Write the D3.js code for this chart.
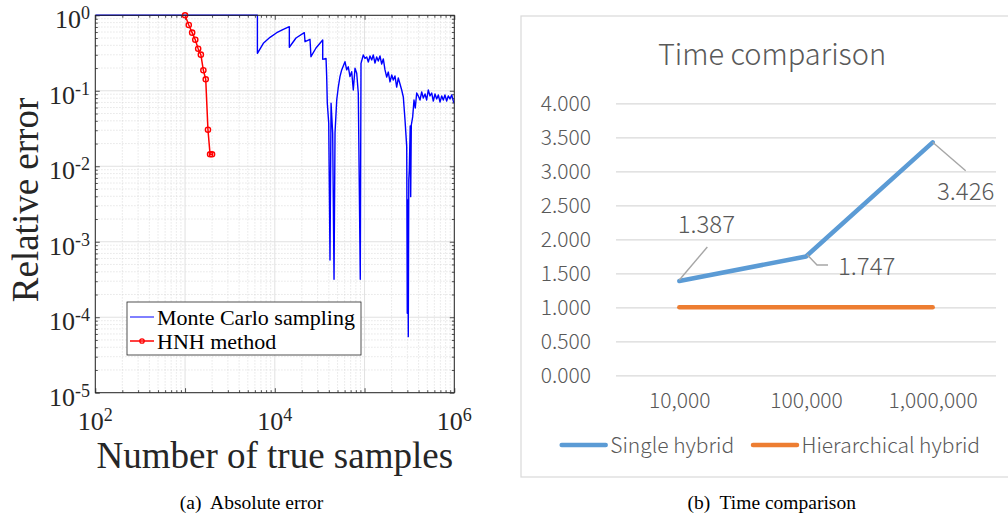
<!DOCTYPE html>
<html>
<head>
<meta charset="utf-8">
<script src="https://cdn.jsdelivr.net/npm/d3@7"></script>
<style>
body { margin: 0; background: #fff; }
svg { display: block; }
</style>
</head>
<body>
<svg id="fig" width="1008" height="518"></svg>
<script>
// ---- (a) relative error, log-log ----
var mcX = [100, 6400, 6400, 7450, 8850, 10500, 12440, 14520, 14520, 17220,
    21320, 21720, 24660, 25300, 28770, 34200, 34200, 37230, 37850, 38460,
    39900, 41210, 42360, 44150, 45700, 46880, 48980, 51050, 53220, 55630,
    60540, 63240, 65900, 68830, 71920, 74940, 78290, 81790, 85190, 89600,
    91300, 96800, 101100, 105700, 110200, 115000, 120200, 125000, 130700, 136500,
    142200, 148600, 155200, 161800, 169000, 176600, 184000, 192200, 200900, 209000,
    218300, 228000, 237700, 248300, 259300, 270400, 282400, 295000, 299300, 303400,
    307000, 311200, 315100, 322700, 326600, 331900, 343800, 355600, 367400, 381000,
    397100, 414900, 433300, 451600, 472100, 492000, 513100, 535800, 559800, 583500,
    609500, 636600, 663700, 693400, 724400, 754200, 787000, 822000, 857000, 895300,
    935000, 975000, 1000000];
var mcY = [1, 1, 0.314, 0.426, 0.511, 0.588, 0.653, 0.706, 0.377, 0.50,
    0.588, 0.447, 0.481, 0.283, 0.369, 0.471, 0.261, 0.269, 0.154, 0.0683,
    0.0371, 0.000574, 0.0683, 0.0274, 0.000318, 0.0277, 0.0755, 0.113, 0.154, 0.189,
    0.243, 0.189, 0.208, 0.154, 0.179, 0.1025, 0.199, 0.171, 0.0927, 0.000318,
    0.231, 0.298, 0.269, 0.280, 0.241, 0.289, 0.256, 0.298, 0.233, 0.280,
    0.248, 0.289, 0.226, 0.264, 0.189, 0.152, 0.177, 0.131, 0.162, 0.139,
    0.157, 0.112, 0.148, 0.123, 0.1025, 0.0827, 0.0410, 0.0182, 0.000113, 0.00358,
    0.0000553, 0.00659, 0.00893, 0.0342, 0.00396, 0.0352, 0.0451, 0.0755, 0.0592, 0.0935,
    0.0855, 0.0755, 0.0965, 0.0803, 0.0906, 0.0755, 0.1025, 0.0855, 0.0935, 0.0730,
    0.0906, 0.0780, 0.0880, 0.0710, 0.0855, 0.0755, 0.0880, 0.0733, 0.0855, 0.0780,
    0.0880, 0.0733, 0.0683];
var hnhX = [1000, 1100, 1200, 1300, 1400, 1500, 1600, 1700, 1800, 1900, 2000];
var hnhY = [1, 0.744, 0.589, 0.475, 0.361, 0.301, 0.187, 0.142, 0.0305, 0.0144, 0.0144];
var xExponents = [2, 4, 6];
var yExponents = [0, -1, -2, -3, -4, -5];
var legendLabels = ["Monte Carlo sampling", "HNH method"];

// ---- (b) time comparison ----
var sizes = ["10,000", "100,000", "1,000,000"];
var singleHybrid = [1.387, 1.747, 3.426];
var hierarchicalHybrid = [1.000, 1.000, 1.000];
var timeTicks = [0, 0.5, 1, 1.5, 2, 2.5, 3, 3.5, 4];
var seriesNames = ["Single hybrid", "Hierarchical hybrid"];

var svg = d3.select("#fig");
var serif = "'Liberation Serif','Times New Roman',serif";
var ink = "#262626";

// ================= left panel =================
var L = {left: 95.3, right: 454.3, top: 15.3, bottom: 392.7};
var x = d3.scaleLog().domain([1e2, 1e6]).range([L.left, L.right]);
var y = d3.scaleLog().domain([1e-5, 1]).range([L.bottom, L.top]);
var isMajor = function(v) { return Math.abs(Math.log10(v) - Math.round(Math.log10(v))) < 1e-9; };
var xMinor = x.ticks().filter(function(v) { return !isMajor(v); });
var yMinor = y.ticks().filter(function(v) { return !isMajor(v); });
var xMajor = x.ticks().filter(isMajor);
var yMajor = y.ticks().filter(isMajor);

var left = svg.append("g");

// grid
left.append("g").selectAll("line").data(xMinor).join("line")
    .attr("x1", x).attr("x2", x).attr("y1", L.top).attr("y2", L.bottom)
    .attr("stroke", "#d4d4d4").attr("stroke-width", 0.7).attr("stroke-dasharray", "1.2,1.8");
left.append("g").selectAll("line").data(yMinor).join("line")
    .attr("y1", y).attr("y2", y).attr("x1", L.left).attr("x2", L.right)
    .attr("stroke", "#d4d4d4").attr("stroke-width", 0.7).attr("stroke-dasharray", "1.2,1.8");
left.append("g").selectAll("line").data(xMajor).join("line")
    .attr("x1", x).attr("x2", x).attr("y1", L.top).attr("y2", L.bottom)
    .attr("stroke", "#e1e1e1").attr("stroke-width", 1);
left.append("g").selectAll("line").data(yMajor).join("line")
    .attr("y1", y).attr("y2", y).attr("x1", L.left).attr("x2", L.right)
    .attr("stroke", "#e1e1e1").attr("stroke-width", 1);

// ticks on all four sides, pointing in
function tickAxis(axis, tr, vals, size) {
  var g = left.append("g").attr("transform", tr)
      .call(axis.tickValues(vals).tickSize(size).tickFormat(""));
  g.select(".domain").remove();
  g.selectAll(".tick line").attr("stroke", ink).attr("stroke-width", 0.8);
}
var H = L.bottom - L.top, W = L.right - L.left;
tickAxis(d3.axisBottom(x), "translate(0," + L.bottom + ")", xMajor, -4.5);
tickAxis(d3.axisBottom(x), "translate(0," + L.bottom + ")", xMinor, -2.5);
tickAxis(d3.axisTop(x), "translate(0," + L.top + ")", xMajor, -4.5);
tickAxis(d3.axisTop(x), "translate(0," + L.top + ")", xMinor, -2.5);
tickAxis(d3.axisLeft(y), "translate(" + L.left + ",0)", yMajor, -4.5);
tickAxis(d3.axisLeft(y), "translate(" + L.left + ",0)", yMinor, -2.5);
tickAxis(d3.axisRight(y), "translate(" + L.right + ",0)", yMajor, -4.5);
tickAxis(d3.axisRight(y), "translate(" + L.right + ",0)", yMinor, -2.5);

// data
left.append("clipPath").attr("id", "clipL").append("rect")
    .attr("x", L.left).attr("y", L.top - 2).attr("width", W).attr("height", H + 2);
var mcLine = d3.line().x(function(d, i) { return x(mcX[i]); }).y(function(d, i) { return y(mcY[i]); });
left.append("path").datum(mcX).attr("d", mcLine).attr("clip-path", "url(#clipL)")
    .attr("fill", "none").attr("stroke", "#0000ff").attr("stroke-width", 1.4)
    .attr("stroke-linejoin", "round");
var hnhLine = d3.line().x(function(d, i) { return x(hnhX[i]); }).y(function(d, i) { return y(hnhY[i]); });
left.append("path").datum(hnhX).attr("d", hnhLine)
    .attr("fill", "none").attr("stroke", "#ff0000").attr("stroke-width", 1.5);
left.append("g").selectAll("circle").data(hnhX).join("circle")
    .attr("cx", function(d) { return x(d); })
    .attr("cy", function(d, i) { return y(hnhY[i]); })
    .attr("r", 2.6).attr("fill", "none").attr("stroke", "#ff0000").attr("stroke-width", 1.4);

// frame
left.append("rect").attr("x", L.left).attr("y", L.top).attr("width", W).attr("height", H)
    .attr("fill", "none").attr("stroke", ink).attr("stroke-width", 1);

// tick labels 10^n
function powLabel(sel) {
  sel.append("tspan").text("10");
  sel.append("tspan").attr("dy", -9).attr("font-size", 18).text(function(d) { return d; });
}
left.append("g").selectAll("text").data(xExponents).join("text")
    .attr("x", function(d) { return x(Math.pow(10, d)); }).attr("y", 430)
    .attr("text-anchor", "middle").attr("font-family", serif).attr("font-size", 26)
    .attr("fill", ink).call(powLabel);
left.append("g").selectAll("text").data(yExponents).join("text")
    .attr("x", 90).attr("y", function(d) { return y(Math.pow(10, d)) + 13; })
    .attr("text-anchor", "end").attr("font-family", serif).attr("font-size", 26)
    .attr("fill", ink).call(powLabel);

// axis titles
left.append("text").attr("x", (L.left + L.right) / 2).attr("y", 468)
    .attr("text-anchor", "middle").attr("font-family", serif).attr("font-size", 37)
    .attr("fill", ink).text("Number of true samples");
left.append("text").attr("transform", "translate(38," + ((L.top + L.bottom) / 2 - 4) + ") rotate(-90)")
    .attr("text-anchor", "middle").attr("font-family", serif).attr("font-size", 37)
    .attr("fill", ink).text("Relative error");

// legend
var lg = left.append("g").attr("transform", "translate(127,302)");
lg.append("rect").attr("width", 234).attr("height", 53)
    .attr("fill", "#fff").attr("stroke", ink).attr("stroke-width", 0.8);
var lgColors = ["#0000ff", "#ff0000"];
var lgItem = lg.selectAll("g").data(legendLabels).join("g")
    .attr("transform", function(d, i) { return "translate(0," + (15 + i * 24) + ")"; });
lgItem.append("line").attr("x1", 3).attr("x2", 27)
    .attr("stroke", function(d, i) { return lgColors[i]; })
    .attr("stroke-width", function(d, i) { return i ? 1.5 : 1; });
lgItem.filter(function(d, i) { return i === 1; }).append("circle")
    .attr("cx", 15).attr("r", 2.2).attr("fill", "none").attr("stroke", "#ff0000").attr("stroke-width", 1.3);
lgItem.append("text").attr("x", 30).attr("y", 7.5)
    .attr("font-family", serif).attr("font-size", 22).attr("fill", "#000").text(function(d) { return d; });

svg.append("text").attr("x", 251.5).attr("y", 509).attr("text-anchor", "middle")
    .attr("font-family", serif).attr("font-size", 19.5).attr("fill", "#000")
    .attr("xml:space", "preserve").text("(a)  Absolute error");

// ================= right panel =================
var sans = "'Noto Sans CJK SC','Noto Sans',sans-serif";
var grey = "#595959";
var R = {left: 616, right: 996, top: 103.3, bottom: 375.3};
var right = svg.append("g");
right.append("rect").attr("x", 521).attr("y", 16).attr("width", 520).attr("height", 461)
    .attr("fill", "#fff").attr("stroke", "#d9d9d9").attr("stroke-width", 1.2);
right.append("text").attr("x", 772).attr("y", 65).attr("text-anchor", "middle")
    .attr("font-family", sans).attr("font-weight", 300).attr("font-size", 29)
    .attr("fill", grey).text("Time comparison");

var xr = d3.scalePoint().domain(sizes).range([R.left, R.right]).padding(0.5);
var yr = d3.scaleLinear().domain([0, 4]).range([R.bottom, R.top]);

var gy = right.append("g").attr("transform", "translate(" + R.left + ",0)")
    .call(d3.axisLeft(yr).tickValues(timeTicks).tickSize(-(R.right - R.left)).tickPadding(25)
      .tickFormat(d3.format(".3f")));
gy.select(".domain").remove();
gy.selectAll(".tick line").attr("stroke", "#d9d9d9").attr("stroke-width", 1.3);
gy.selectAll(".tick text").attr("font-family", sans).attr("font-weight", 300)
    .attr("font-size", 21).attr("fill", grey);

var gx = right.append("g").attr("transform", "translate(0," + R.bottom + ")")
    .call(d3.axisBottom(xr).tickSize(0).tickPadding(18));
gx.select(".domain").remove();
gx.selectAll(".tick text").attr("font-family", sans).attr("font-weight", 300)
    .attr("font-size", 21).attr("fill", grey);

var seriesColors = ["#5b9bd5", "#ed7d31"];
var lr = d3.line().x(function(d, i) { return xr(sizes[i]); }).y(function(d) { return yr(d); });
right.append("path").datum(hierarchicalHybrid).attr("d", lr).attr("fill", "none")
    .attr("stroke", seriesColors[1]).attr("stroke-width", 4.5).attr("stroke-linecap", "round");
right.append("path").datum(singleHybrid).attr("d", lr).attr("fill", "none")
    .attr("stroke", seriesColors[0]).attr("stroke-width", 4.5).attr("stroke-linecap", "round")
    .attr("stroke-linejoin", "round");

// data labels with leader lines (offsets from the point)
var labelPos = [
  {leader: [[0, -1], [28, -34]], tx: 27, ty: -48, anchor: "middle"},
  {leader: [[1, -2], [11, 8.5], [22, 8.5]], tx: 32, ty: 18.5, anchor: "start"},
  {leader: [[0, 0], [33, 28.5]], tx: 33, ty: 57.7, anchor: "middle"}
];
var lab = right.append("g").selectAll("g").data(singleHybrid).join("g")
    .attr("transform", function(d, i) { return "translate(" + xr(sizes[i]) + "," + yr(d) + ")"; });
lab.append("polyline").attr("points", function(d, i) { return labelPos[i].leader.join(" "); })
    .attr("fill", "none").attr("stroke", "#a6a6a6").attr("stroke-width", 1.4);
lab.append("text").attr("x", function(d, i) { return labelPos[i].tx; })
    .attr("y", function(d, i) { return labelPos[i].ty; })
    .attr("text-anchor", function(d, i) { return labelPos[i].anchor; })
    .attr("font-family", sans).attr("font-weight", 300).attr("font-size", 24).attr("fill", grey)
    .text(function(d) { return d3.format(".3f")(d); });

// legend
var legR = right.append("g").selectAll("g").data(seriesNames).join("g")
    .attr("transform", function(d, i) { return "translate(" + [561.7, 753][i] + ",445)"; });
legR.append("line").attr("x1", 0).attr("x2", 44)
    .attr("stroke", function(d, i) { return seriesColors[i]; }).attr("stroke-width", 4.5)
    .attr("stroke-linecap", "round");
legR.append("text").attr("x", 48.5).attr("y", 7.5)
    .attr("font-family", sans).attr("font-weight", 300).attr("font-size", 21).attr("fill", grey)
    .text(function(d) { return d; });

svg.append("text").attr("x", 771.7).attr("y", 509).attr("text-anchor", "middle")
    .attr("font-family", serif).attr("font-size", 19.5).attr("fill", "#000")
    .attr("xml:space", "preserve").text("(b)  Time comparison");
</script>
</body>
</html>
